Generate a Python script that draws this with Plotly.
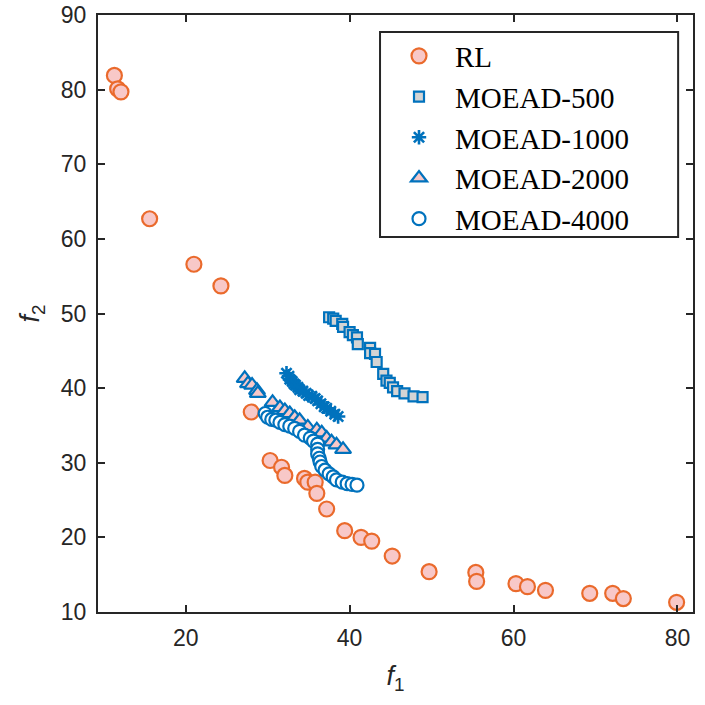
import plotly.graph_objects as go

# RL
rl_f1 = [11.3, 11.7, 12.1, 15.6, 21.0, 24.3, 28.0, 30.3, 31.7, 32.1, 34.5, 34.9, 35.8, 36.0, 37.2,
         39.4, 41.4, 42.7, 45.2, 49.7, 55.4, 55.5, 60.3, 61.7, 63.9, 69.3, 72.1, 73.4, 79.9]
rl_f2 = [81.9, 80.1, 79.7, 62.7, 56.6, 53.7, 36.8, 30.3, 29.4, 28.3, 27.9, 27.4, 27.4, 25.9, 23.8,
         20.9, 20.0, 19.5, 17.5, 15.4, 15.3, 14.1, 13.8, 13.4, 12.9, 12.5, 12.5, 11.8, 11.3]

# MOEAD-500
m500_f1 = [37.5, 38.0, 38.3, 39.1, 39.2, 40.0, 40.4, 40.9, 41.0, 42.5, 42.5, 43.1, 43.3, 44.1,
           44.5, 44.9, 45.3, 45.8, 46.7, 47.8, 48.9]
m500_f2 = [49.5, 49.3, 49.0, 48.6, 48.2, 47.5, 47.1, 46.8, 45.9, 45.4, 44.7, 44.6, 43.5, 41.9,
           41.0, 40.7, 40.1, 39.6, 39.3, 38.9, 38.8]

# MOEAD-1000
m1000_f1 = [32.3, 32.6, 32.7, 33.0, 33.2, 33.4, 33.7, 33.9, 34.3, 34.7, 35.0, 35.4, 35.8, 36.1,
            36.5, 36.9, 37.2, 37.7, 38.2, 38.6]
m1000_f2 = [42.0, 41.6, 41.2, 40.9, 40.6, 40.4, 40.1, 39.8, 39.6, 39.3, 39.0, 38.9, 38.6, 38.3,
            37.9, 37.5, 37.3, 36.9, 36.5, 36.2]

# MOEAD-2000
m2000_f1 = [27.2, 27.6, 28.1, 28.7, 28.8, 30.6, 31.5, 32.1, 32.7, 33.3, 33.9, 34.9, 36.0, 36.6,
            37.2, 37.8, 38.4, 39.2]
m2000_f2 = [41.3, 40.6, 40.4, 39.7, 39.3, 38.1, 37.4, 37.0, 36.6, 36.1, 35.7, 34.8, 34.4, 34.0,
            33.3, 32.8, 32.4, 31.8]

# MOEAD-4000
m4000_f1 = [29.7, 30.0, 30.5, 31.0, 31.5, 32.1, 32.7, 33.3, 33.9, 34.5, 35.2, 35.6, 36.1, 36.1,
            36.1, 36.3, 36.4, 36.6, 37.0, 37.5, 38.0, 38.4, 39.1, 39.7, 40.3, 40.9]
m4000_f2 = [36.6, 36.1, 35.8, 35.7, 35.4, 35.1, 34.9, 34.6, 34.2, 33.7, 33.3, 32.9, 32.5, 31.8,
            31.2, 30.6, 30.1, 29.5, 29.0, 28.5, 28.1, 27.7, 27.4, 27.2, 27.1, 27.0]

x_ticks = [20, 40, 60, 80]
y_ticks = [10, 20, 30, 40, 50, 60, 70, 80, 90]

BLUE = "#0072BD"
ORANGE = "#EA6A2C"
PINK = "#F8C8C8"

fig = go.Figure()
fig.add_trace(go.Scatter(x=rl_f1, y=rl_f2, mode="markers", name="RL",
                         marker=dict(symbol="circle", size=15, color=PINK,
                                     line=dict(color=ORANGE, width=2.2))))
fig.add_trace(go.Scatter(x=m500_f1, y=m500_f2, mode="markers", name="MOEAD-500",
                         marker=dict(symbol="square", size=10, color="#D4D4D4",
                                     line=dict(color=BLUE, width=2.2))))
fig.add_trace(go.Scatter(x=m1000_f1, y=m1000_f2, mode="markers", name="MOEAD-1000",
                         marker=dict(symbol="asterisk-open", size=12, color=BLUE,
                                     line=dict(color=BLUE, width=2.6))))
fig.add_trace(go.Scatter(x=m2000_f1, y=m2000_f2, mode="markers", name="MOEAD-2000",
                         marker=dict(symbol="triangle-up", size=14, color=PINK,
                                     line=dict(color=BLUE, width=2.2))))
fig.add_trace(go.Scatter(x=m4000_f1, y=m4000_f2, mode="markers", name="MOEAD-4000",
                         marker=dict(symbol="circle", size=13, color="white",
                                     line=dict(color=BLUE, width=2.2))))

TICKFONT = dict(family="Liberation Sans, Arial", size=23, color="#262626")
axis_common = dict(showgrid=False, zeroline=False, showline=True, linecolor="#262626",
                   linewidth=2, mirror="ticks", ticks="inside", ticklen=7, tickwidth=2,
                   tickcolor="#262626", automargin=False, tickfont=TICKFONT)

fig.update_layout(
    width=705, height=705,
    margin=dict(l=98, r=12, t=15, b=93),
    paper_bgcolor="white", plot_bgcolor="white",
    xaxis=dict(range=[9.3, 81.9], tickvals=x_ticks, ticktext=[str(v) for v in x_ticks],
               ticklabelstandoff=4,
               title=dict(text="<i>f</i><sub>1</sub>", standoff=17,
                          font=dict(family="Liberation Sans, Arial", size=27, color="#262626")),
               **axis_common),
    yaxis=dict(range=[10, 90], tickvals=y_ticks, ticktext=[str(v) for v in y_ticks],
               ticklabelstandoff=5,
               title=dict(text="<i>f</i><sub>2</sub>", standoff=13,
                          font=dict(family="Liberation Sans, Arial", size=27, color="#262626")),
               **axis_common),
    legend=dict(x=0.479, y=0.974, xanchor="left", yanchor="top",
                bgcolor="rgba(0,0,0,0)", borderwidth=0,
                font=dict(family="Liberation Serif, Times New Roman", size=29, color="black"),
                itemsizing="trace", itemwidth=62, tracegroupgap=0),
    shapes=[dict(type="rect", xref="paper", yref="paper",
                 x0=0.474, x1=0.975, y0=0.628, y1=0.9715,
                 line=dict(color="#262626", width=2), fillcolor="white", layer="below")],
)

fig.write_html("out.html")
